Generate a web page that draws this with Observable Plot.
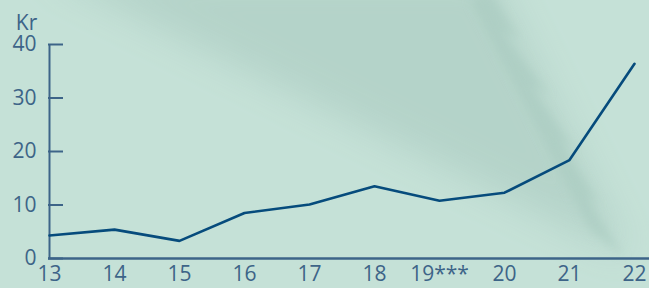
<!DOCTYPE html>
<html>
<head>
<meta charset="utf-8">
<script src="https://cdn.jsdelivr.net/npm/d3@7"></script>
<script src="https://cdn.jsdelivr.net/npm/@observablehq/plot@0.6"></script>
<style>
  html, body { margin: 0; padding: 0; width: 649px; height: 288px; overflow: hidden; background: #c5e1d7; }
  #wrap { position: relative; width: 649px; height: 288px; }
  #bg { position: absolute; left: 0; top: 0; }
  #chart { position: absolute; left: 0; top: 0; }
</style>
</head>
<body>
<div id="wrap">
  <svg id="bg" width="649" height="288">
    <defs>
      <filter id="blur" x="-20%" y="-20%" width="140%" height="140%"><feGaussianBlur stdDeviation="18"/></filter>
      <filter id="blur2" x="-20%" y="-20%" width="140%" height="140%"><feGaussianBlur stdDeviation="5"/></filter>
    </defs>
    <polygon points="40,-30 490,-30 630,258 " fill="#b3d2c8" filter="url(#blur)" opacity="0.9"/>
    <polygon points="490,-10 520,40 500,30 550,95 530,85 575,150 560,140 600,205 585,195 625,258 590,230 470,0" fill="#a9cbc0" filter="url(#blur2)" opacity="0.6"/>
  </svg>
  <div id="chart"></div>
</div>
<script>
const years = ["13", "14", "15", "16", "17", "18", "19***", "20", "21", "22"];
const values = [4.3, 5.4, 3.3, 8.5, 10.1, 13.5, 10.8, 12.3, 18.4, 36.4];
const yTicks = [0, 10, 20, 30, 40];
const unitLabel = "Kr";

const data = years.map((y, i) => ({year: y, value: values[i]}));
const textColor = "#3d6488";
const lineColor = "#064b7c";

const chart = Plot.plot({
  width: 649,
  height: 288,
  marginLeft: 48,
  marginRight: 0,
  marginTop: 44,
  marginBottom: 30,
  style: {background: "transparent", fontFamily: "'Open Sans', sans-serif", fontSize: "21px", color: textColor, overflow: "visible"},
  x: {type: "point", domain: years, range: [48, 634], padding: 0},
  y: {domain: [0, 40]},
  marks: [
    Plot.axisY(yTicks, {tickSize: -15, text: null, stroke: textColor, strokeWidth: 2, label: null}),
    Plot.axisY(yTicks, {tickSize: 0, tickPadding: 12, fill: textColor, fontSize: 21, label: null}),
    Plot.axisX(years, {tickSize: 0, tickPadding: 8, fill: textColor, fontSize: 21, label: null}),
    Plot.ruleX([years[0]], {y1: 0, y2: 40, stroke: textColor, strokeWidth: 2}),
    Plot.ruleY([0], {stroke: textColor, strokeWidth: 2.5}),
    Plot.line(data, {x: "year", y: "value", stroke: lineColor, strokeWidth: 2.6, strokeLinejoin: "miter"}),
    Plot.text([unitLabel], {frameAnchor: "top-left", dx: -22, dy: -29, fill: textColor, fontSize: 21, textAnchor: "middle"})
  ]
});
document.getElementById("chart").appendChild(chart);
</script>
</body>
</html>
